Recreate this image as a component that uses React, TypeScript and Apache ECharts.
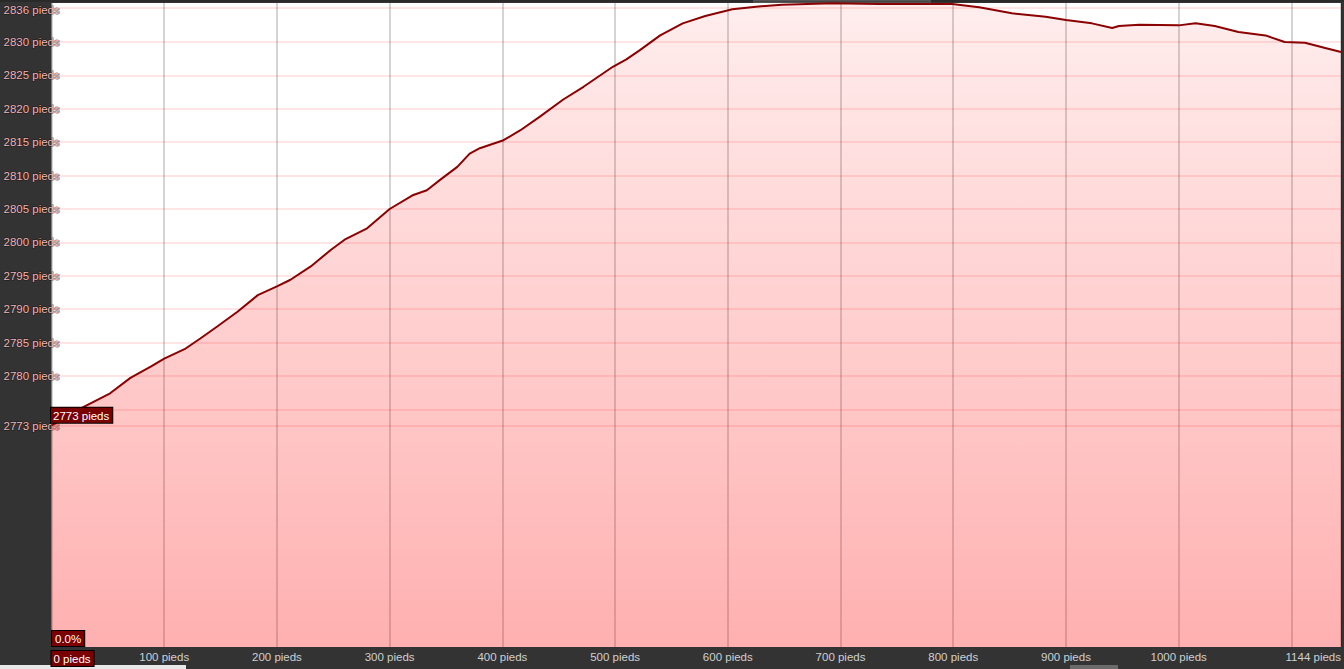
import React, { useEffect, useRef } from "react";
import * as echarts from "echarts";

// Distance along the route (pieds) and elevation (pieds)
const distances = [
  0, 15, 29, 52, 70, 88, 100, 118, 132, 147, 165, 183, 200, 212, 230, 248, 260,
  280, 300, 321, 333, 345, 360, 371, 380, 401, 416, 433, 454, 472, 498, 510, 522,
  540, 560, 580, 604, 625, 648, 693, 734, 770, 799, 823, 852, 882, 900, 923, 941,
  947, 965, 1000, 1015, 1032, 1053, 1077, 1094, 1112, 1130, 1144,
];
const elevations = [
  2772.6, 2774.0, 2775.4, 2777.4, 2779.7, 2781.4, 2782.6, 2784.0, 2785.6, 2787.4,
  2789.6, 2792.1, 2793.4, 2794.4, 2796.4, 2798.9, 2800.4, 2802.1, 2805.0, 2807.1,
  2807.8, 2809.4, 2811.3, 2813.3, 2814.1, 2815.3, 2816.8, 2818.8, 2821.4, 2823.3,
  2826.3, 2827.4, 2828.8, 2831.0, 2832.8, 2833.9, 2834.9, 2835.3, 2835.6, 2835.8,
  2835.7, 2835.7, 2835.7, 2835.2, 2834.3, 2833.8, 2833.3, 2832.8, 2832.1, 2832.4,
  2832.6, 2832.5, 2832.8, 2832.4, 2831.5, 2831.0, 2830.0, 2829.9, 2829.1, 2828.5,
];

// Axis values
const yGridValues = [2775, 2780, 2785, 2790, 2795, 2800, 2805, 2810, 2815, 2820, 2825, 2830];
const yLabelValues = [2780, 2785, 2790, 2795, 2800, 2805, 2810, 2815, 2820, 2825, 2830];
const startElevation = 2772.5; // shown as "2773 pieds"
const startLabel = "2773 pieds";
const maxElevation = 2835.2; // shown as "2836 pieds"
const maxLabel = "2836 pieds";
const yMin = 2739.4;
const yMax = 2835.85;
const xMax = 1144;
const xInterval = 100;
const hiddenXLabel = 1100;
const gradeLabel = "0.0%";
const unit = "pieds";

const FONT = "'Liberation Sans', Arial, sans-serif";
const FS = 11.5;

export default function App() {
  const ref = useRef<HTMLDivElement>(null);

  useEffect(() => {
    if (!ref.current) return;
    const chart = echarts.init(ref.current, undefined, { renderer: "svg" });

    const yTicks = [startElevation, ...yGridValues, maxElevation];
    const yLabels = [startElevation, ...yLabelValues, maxElevation];

    const option: any = {
      animation: false,
      backgroundColor: "#333333",
      textStyle: { fontFamily: FONT },
      grid: {
        left: 50,
        right: 2,
        top: 3,
        bottom: 22,
        show: true,
        backgroundColor: "#ffffff",
        borderWidth: 0,
      },
      xAxis: {
        type: "value",
        min: 0,
        max: xMax,
        interval: xInterval,
        axisLine: { show: false },
        axisTick: { show: false },
        splitLine: { show: true, lineStyle: { color: "rgba(0,0,0,0.17)", width: 2 } },
        axisLabel: {
          showMinLabel: true,
          showMaxLabel: true,
          alignMinLabel: "left",
          alignMaxLabel: "right",
          margin: 4,
          color: "#d0d0d0",
          fontSize: FS,
          fontFamily: FONT,
          formatter: (v: number) => {
            if (v === 0) return "{hl|0 " + unit + "}";
            if (v === hiddenXLabel) return "";
            return v + " " + unit;
          },
          rich: {
            hl: {
              color: "#ffffff",
              backgroundColor: "#7a0000",
              borderColor: "#000000",
              borderWidth: 1,
              padding: [2, 3, 1, 2],
              fontSize: FS,
              fontFamily: FONT,
            },
          },
        },
      },
      yAxis: {
        type: "value",
        min: yMin,
        max: yMax,
        axisLine: { show: false },
        axisTick: { show: false, customValues: yTicks },
        splitLine: { show: true, lineStyle: { color: "rgba(255,0,0,0.1)", width: 2 } },
        axisLabel: {
          customValues: yLabels,
          align: "left",
          margin: 48,
          color: "#f4b6b6",
          fontSize: FS,
          fontFamily: FONT,
          textBorderColor: "rgba(0,0,0,0.55)",
          textBorderWidth: 1,
          formatter: (v: number) => {
            if (Math.abs(v - startElevation) < 0.01) return startLabel;
            if (Math.abs(v - maxElevation) < 0.01) return "{top|" + maxLabel + "}";
            return Math.round(v) + " " + unit;
          },
          rich: {
            top: {
              padding: [6, 0, 0, 0],
              color: "#f4b6b6",
              fontSize: FS,
              fontFamily: FONT,
              textBorderColor: "rgba(0,0,0,0.55)",
              textBorderWidth: 1,
            },
          },
        },
      },
      series: [
        {
          type: "line",
          data: distances.map((d, i) => [d, elevations[i]]),
          showSymbol: false,
          symbol: "none",
          lineStyle: { color: "#8b0000", width: 2 },
          areaStyle: {
            origin: "start",
            opacity: 1,
            color: new echarts.graphic.LinearGradient(0, 0, 0, 1, [
              { offset: 0, color: "rgba(255,0,0,0.07)" },
              { offset: 1, color: "rgba(255,0,0,0.31)" },
            ]),
          },
          markPoint: {
            symbol: "circle",
            symbolSize: 1,
            itemStyle: { color: "rgba(0,0,0,0)" },
            data: [
              {
                coord: [distances[0], elevations[0]],
                label: {
                  show: true,
                  position: [0, -17],
                  formatter: startLabel,
                  color: "#ffffff",
                  backgroundColor: "#7a0000",
                  borderColor: "#000000",
                  borderWidth: 1,
                  padding: [2, 3, 1, 2],
                  fontSize: FS,
                  fontFamily: FONT,
                },
              },
            ],
          },
        },
      ],
      graphic: [
        {
          type: "text",
          left: 51,
          top: 630,
          z: 100,
          style: {
            text: gradeLabel,
            fill: "#ffffff",
            backgroundColor: "#7a0000",
            borderColor: "#000000",
            borderWidth: 1,
            padding: [2, 3, 1, 3],
            font: FS + "px " + FONT,
          },
        },
        {
          type: "rect",
          left: 0,
          top: 665,
          shape: { width: 186, height: 4 },
          style: { fill: "#e8e8e8" },
        },
        {
          type: "rect",
          left: 1070,
          top: 665,
          shape: { width: 48, height: 4 },
          style: { fill: "#6b6b6b" },
        },
        {
          type: "rect",
          left: 0,
          top: 0,
          shape: { width: 1344, height: 2 },
          style: { fill: "#2a2a2a" },
        },
        {
          type: "rect",
          left: 753,
          top: 0,
          shape: { width: 177, height: 2 },
          style: { fill: "#444444", stroke: "#555555", lineWidth: 1 },
        },
      ],
    };

    chart.setOption(option);
    return () => chart.dispose();
  }, []);

  return (
    <div
      ref={ref}
      style={{ position: "fixed", left: 0, top: 0, width: 1344, height: 669, background: "#333333" }}
    />
  );
}
